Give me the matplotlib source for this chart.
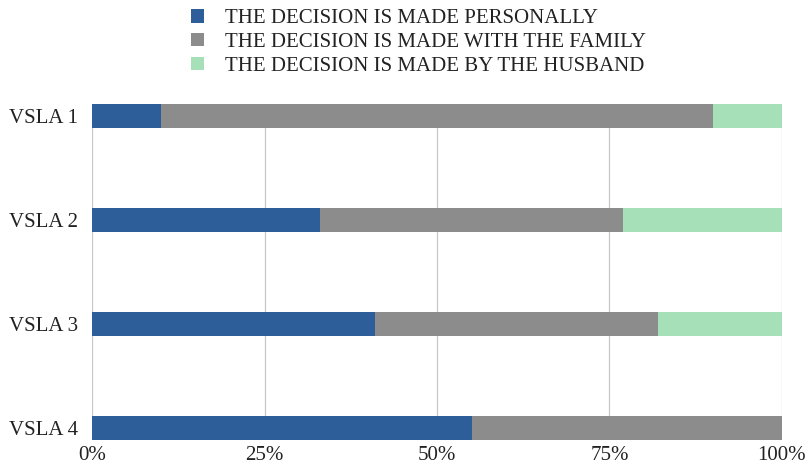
import matplotlib.pyplot as plt
import numpy as np

plt.rcParams['font.family'] = ['Liberation Serif', 'DejaVu Serif']

groups = ['VSLA 1', 'VSLA 2', 'VSLA 3', 'VSLA 4']
personally = [10, 33, 41, 55]
with_family = [80, 44, 41, 45]
by_husband = [10, 23, 18, 0]
series_names = ['THE DECISION IS MADE PERSONALLY',
                'THE DECISION IS MADE WITH THE FAMILY',
                'THE DECISION IS MADE BY THE HUSBAND']
colors = ['#2e5e99', '#8c8c8c', '#a6e0b8']

fig = plt.figure(figsize=(8.08, 4.71), dpi=100)
ax = fig.add_axes([0.1139, 0.0658, 0.8539, 0.7134])

y = np.arange(len(groups))
h = 0.23
left = np.zeros(len(groups))
for vals, name, c in zip([personally, with_family, by_husband], series_names, colors):
    ax.barh(y, vals, left=left, height=h, color=c, label=name, zorder=3)
    left += np.array(vals)

ax.set_xlim(0, 100)
ax.set_ylim(3 + h / 2, -h / 2)
ax.set_yticks(y)
ax.set_yticklabels(groups, fontsize=15)
ax.set_xticks([0, 25, 50, 75, 100])
ax.set_xticklabels(['0%', '25%', '50%', '75%', '100%'], fontsize=15)
ax.tick_params(length=0, colors='#222222')
ax.tick_params(axis='x', pad=4)
ax.tick_params(axis='y', pad=10)
ax.xaxis.grid(True, color='#c8c8c8', linewidth=0.9, zorder=0)
for s in ax.spines.values():
    s.set_visible(False)

fig.legend(loc='upper center', bbox_to_anchor=(0.518, 1.0), ncol=1, frameon=False,
           fontsize=15, handlelength=0.6, handleheight=0.6, handletextpad=1.0,
           labelspacing=0.22, labelcolor='#222222', borderaxespad=0.05)

fig.savefig('out.png', dpi=100)
